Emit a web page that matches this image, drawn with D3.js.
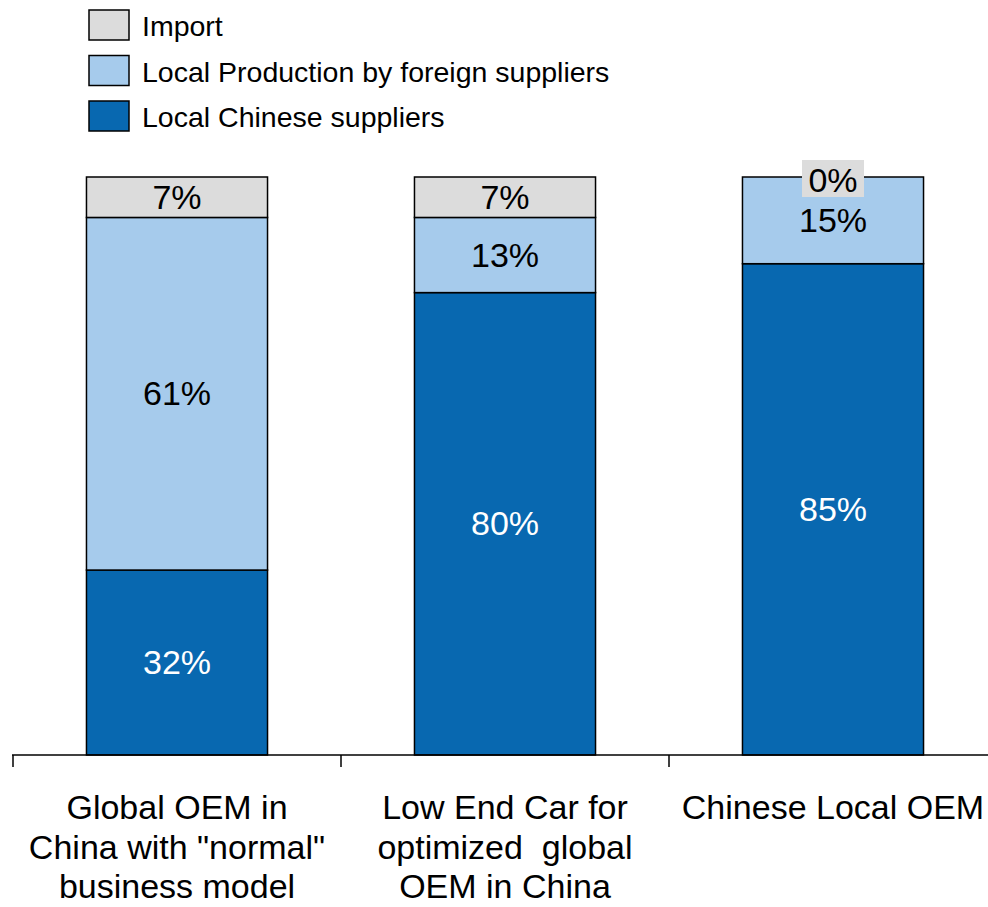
<!DOCTYPE html>
<html>
<head>
<meta charset="utf-8">
<script src="https://cdn.jsdelivr.net/npm/d3@7"></script>
<style>
  body { margin: 0; background: #fff; }
  text { font-family: "Liberation Sans", Arial, sans-serif; }
</style>
</head>
<body>
<div id="chart-area"></div>
<script>
// data
var categories = [
    ["Global OEM in", "China with \"normal\"", "business model"],
    ["Low End Car for", "optimized  global", "OEM in China"],
    ["Chinese Local OEM"]
];
var seriesNames = ["Local Chinese suppliers", "Local Production by foreign suppliers", "Import"];
var localChinese = [32, 80, 85];
var localForeign = [61, 13, 15];
var imports = [7, 7, 0];
var colors = ["#0868b0", "#a6cbec", "#dcdcdc"];

var w = 988, h = 907;

var svg = d3.select("#chart-area").append("svg")
    .attr("width", w)
    .attr("height", h);

var x = d3.scaleBand()
    .domain(d3.range(categories.length))
    .range([13, 997])
    .paddingInner(0.448)
    .paddingOuter(0.224);

var y = d3.scaleLinear()
    .domain([0, 100])
    .range([755, 177]);

var rows = categories.map((c, i) => {
    return { i: i, a: localChinese[i], b: localForeign[i], c: imports[i] };
});
var stack = d3.stack().keys(["a", "b", "c"]);
var layers = stack(rows);

var g = svg.append("g");

layers.forEach((layer, k) => {
    g.selectAll(".seg" + k)
        .data(layer)
        .enter().append("rect")
        .attr("x", (d) => x(d.data.i))
        .attr("y", (d) => y(d[1]))
        .attr("width", x.bandwidth())
        .attr("height", (d) => y(d[0]) - y(d[1]))
        .attr("fill", colors[k])
        .attr("stroke", "#000")
        .attr("stroke-width", 1.5);
});

// value labels
layers.forEach((layer, k) => {
    layer.forEach((d) => {
        var cx = x(d.data.i) + x.bandwidth() / 2;
        var cy = (y(d[0]) + y(d[1])) / 2;
        var val = d[1] - d[0];
        if (val === 0) {
            cy = y(d[1]) + 3;
            g.append("rect")
                .attr("x", cx - 31)
                .attr("y", cy - 20)
                .attr("width", 62)
                .attr("height", 37)
                .attr("fill", colors[2]);
        }
        g.append("text")
            .attr("x", cx)
            .attr("y", cy)
            .attr("dy", "0.34em")
            .attr("text-anchor", "middle")
            .attr("font-size", "34px")
            .attr("fill", k === 0 ? "#fff" : "#000")
            .text(val + "%");
    });
});

// x axis
var xAxis = svg.append("g");
xAxis.append("line")
    .attr("x1", 12).attr("x2", w)
    .attr("y1", 755).attr("y2", 755)
    .attr("stroke", "#000").attr("stroke-width", 1.5);
categories.forEach((c, i) => {
    var tx = x(i) - x.step() * x.paddingInner() / 2;
    xAxis.append("line")
        .attr("x1", tx).attr("x2", tx)
        .attr("y1", 755).attr("y2", 767)
        .attr("stroke", "#000").attr("stroke-width", 1.5);
    var t = xAxis.append("text")
        .attr("text-anchor", "middle")
        .attr("font-size", "34px")
        .style("white-space", "pre")
        .attr("fill", "#000");
    c.forEach((line, j) => {
        t.append("tspan")
            .attr("x", x(i) + x.bandwidth() / 2)
            .attr("y", 819 + j * 39.5)
            .text(line);
    });
});

// legend
var legendOrder = [2, 1, 0];
legendOrder.forEach((k, j) => {
    var ly = 10 + j * 45.5;
    svg.append("rect")
        .attr("x", 89).attr("y", ly)
        .attr("width", 40).attr("height", 30)
        .attr("fill", colors[k])
        .attr("stroke", "#000")
        .attr("stroke-width", 1.5);
    svg.append("text")
        .attr("x", 142).attr("y", ly + 15)
        .attr("dy", "0.39em")
        .attr("font-size", "28.5px")
        .attr("fill", "#000")
        .text(seriesNames[k]);
});
</script>
</body>
</html>
